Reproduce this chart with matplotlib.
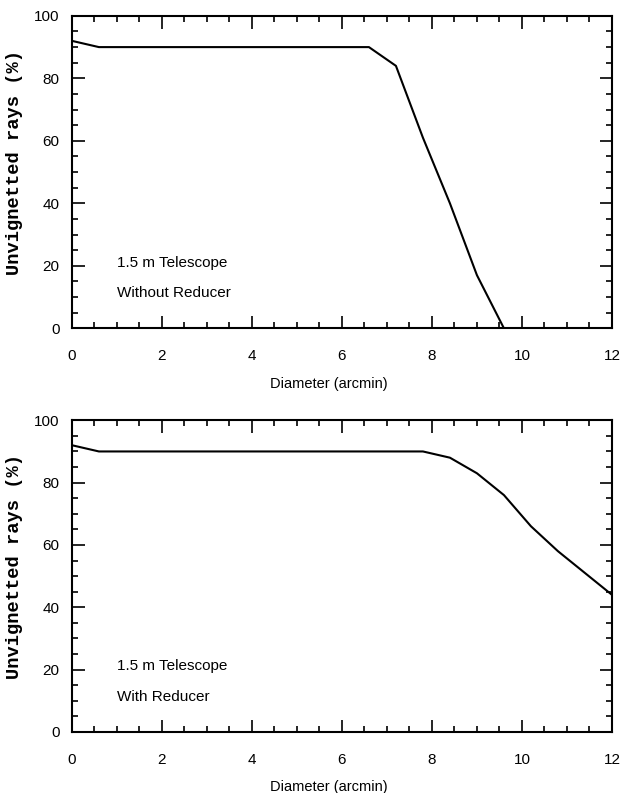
import numpy as np
from matplotlib import pyplot as plt
from matplotlib.ticker import MultipleLocator

# diameter (arcmin) and unvignetted rays (%)
diam_without = [0.0, 0.6, 1.2, 1.8, 2.4, 3.0, 3.6, 4.2, 4.8, 5.4, 6.0, 6.6, 7.2, 7.8, 8.4, 9.0, 9.6]
rays_without = [92, 90, 90, 90, 90, 90, 90, 90, 90, 90, 90, 90, 84, 61, 40, 17, 0]

diam_with = [0.0, 0.6, 1.2, 1.8, 2.4, 3.0, 3.6, 4.2, 4.8, 5.4, 6.0, 6.6, 7.2, 7.8, 8.4, 9.0, 9.6, 10.2, 10.8, 11.4, 12.0]
rays_with = [92, 90, 90, 90, 90, 90, 90, 90, 90, 90, 90, 90, 90, 90, 88, 83, 76, 66, 58, 51, 44]

panels = [
  (diam_without, rays_without, ['1.5 m Telescope', 'Without Reducer']),
  (diam_with, rays_with, ['1.5 m Telescope', 'With Reducer']),
]

plt.rcParams['font.family'] = ['Liberation Sans', 'DejaVu Sans']

fig = plt.figure(figsize=(6.2, 7.93), dpi=100)
boxes = [[0.116, 0.586, 0.871, 0.394], [0.116, 0.077, 0.871, 0.393]]

for box, (x, y, notes) in zip(boxes, panels):
  ax = fig.add_axes(box)
  ax.plot(x, y, color='black', lw=1.5)
  ax.set_xlim(0, 12)
  ax.set_ylim(0, 100)
  ax.xaxis.set_major_locator(MultipleLocator(2))
  ax.xaxis.set_minor_locator(MultipleLocator(0.5))
  ax.yaxis.set_major_locator(MultipleLocator(20))
  ax.yaxis.set_minor_locator(MultipleLocator(5))
  ax.tick_params(which='both', direction='in', top=True, right=True, width=1.2, labelsize=11)
  ax.tick_params(which='major', length=9, pad=9)
  ax.tick_params(which='minor', length=4.5)
  ax.tick_params(axis='x', which='major', pad=15)
  for s in ax.spines.values():
    s.set_linewidth(1.5)
  ax.set_xlabel('Diameter (arcmin)', fontsize=10.5, labelpad=10)
  ax.xaxis.set_label_coords(0.475, -0.155)
  ax.set_ylabel('Unvignetted rays (%)', fontsize=13.5, fontweight='bold',
                family=['Liberation Mono', 'DejaVu Sans Mono'])
  ax.yaxis.set_label_coords(-0.09, 0.53)
  ax.text(1.0, 21, notes[0], fontsize=11, va='center')
  ax.text(1.0, 11.3, notes[1], fontsize=11, va='center')

fig.savefig('out.png', dpi=100)
